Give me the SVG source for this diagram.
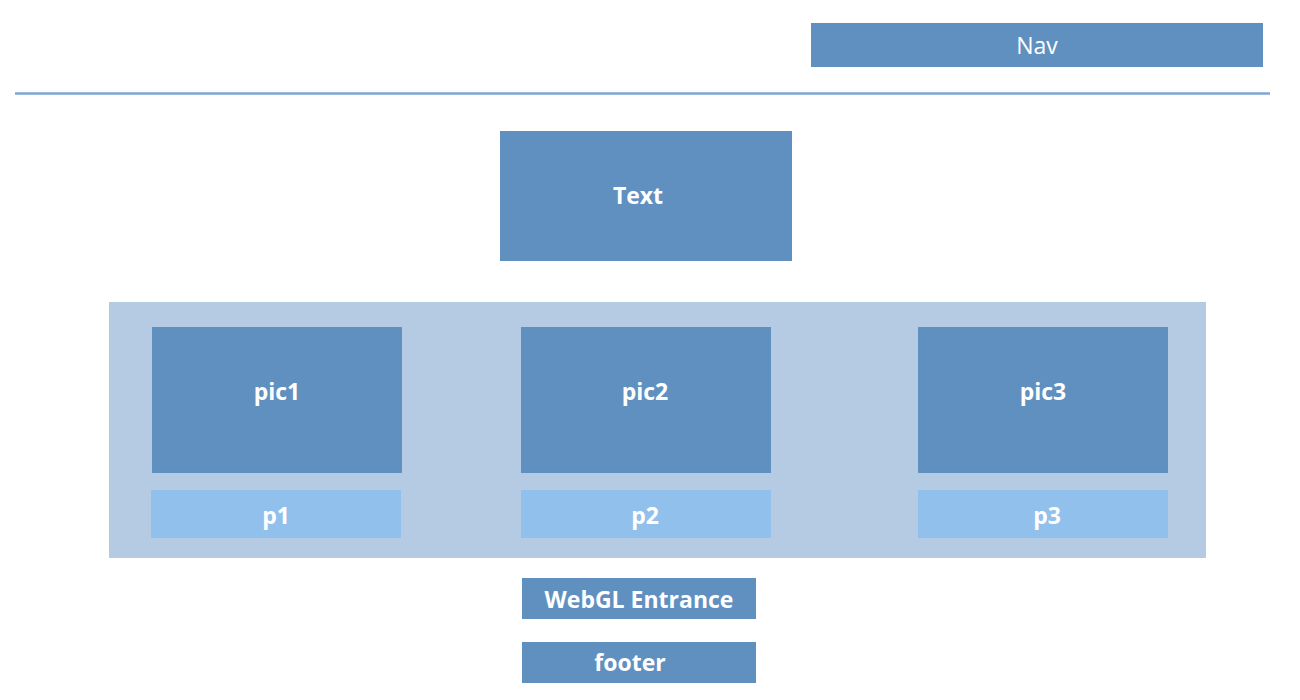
<svg xmlns="http://www.w3.org/2000/svg" width="1300" height="700" viewBox="0 0 1300 700">
<style>
.box{fill:#6090c0}
.light{fill:#92c0ec}
.cont{fill:#b5cbe4}
text{font-family:"Comic Sans MS","Open Sans","DejaVu Sans",sans-serif;font-weight:bold;font-size:23px;fill:#ffffff;text-anchor:middle;dominant-baseline:central}
text.thin{font-weight:normal}
</style>
<rect width="1300" height="700" fill="#ffffff"/>
<g id="connectors">
<line x1="15" y1="93.5" x2="1270" y2="93.5" stroke="#7ea6d4" stroke-width="2.5"/>
</g>
<g id="nav"><rect class="box" x="811" y="23" width="452" height="44"/><text class="thin" x="1037" y="45">Nav</text></g>
<g id="text"><rect class="box" x="500" y="131" width="292" height="130"/><text x="638" y="195">Text</text></g>
<g id="gallery"><rect class="cont" x="109" y="302" width="1097" height="256"/></g>
<g id="pic1"><rect class="box" x="152" y="327" width="250" height="146"/><text x="277" y="391">pic1</text></g>
<g id="pic2"><rect class="box" x="521" y="327" width="250" height="146"/><text x="645" y="391">pic2</text></g>
<g id="pic3"><rect class="box" x="918" y="327" width="250" height="146"/><text x="1043" y="391">pic3</text></g>
<g id="p1"><rect class="light" x="151" y="490" width="250" height="48"/><text x="276" y="515">p1</text></g>
<g id="p2"><rect class="light" x="521" y="490" width="250" height="48"/><text x="645" y="515">p2</text></g>
<g id="p3"><rect class="light" x="918" y="490" width="250" height="48"/><text x="1047" y="515">p3</text></g>
<g id="webgl"><rect class="box" x="522" y="578" width="234" height="41"/><text x="639" y="599">WebGL Entrance</text></g>
<g id="footer"><rect class="box" x="522" y="642" width="234" height="41"/><text x="630" y="662">footer</text></g>
</svg>
